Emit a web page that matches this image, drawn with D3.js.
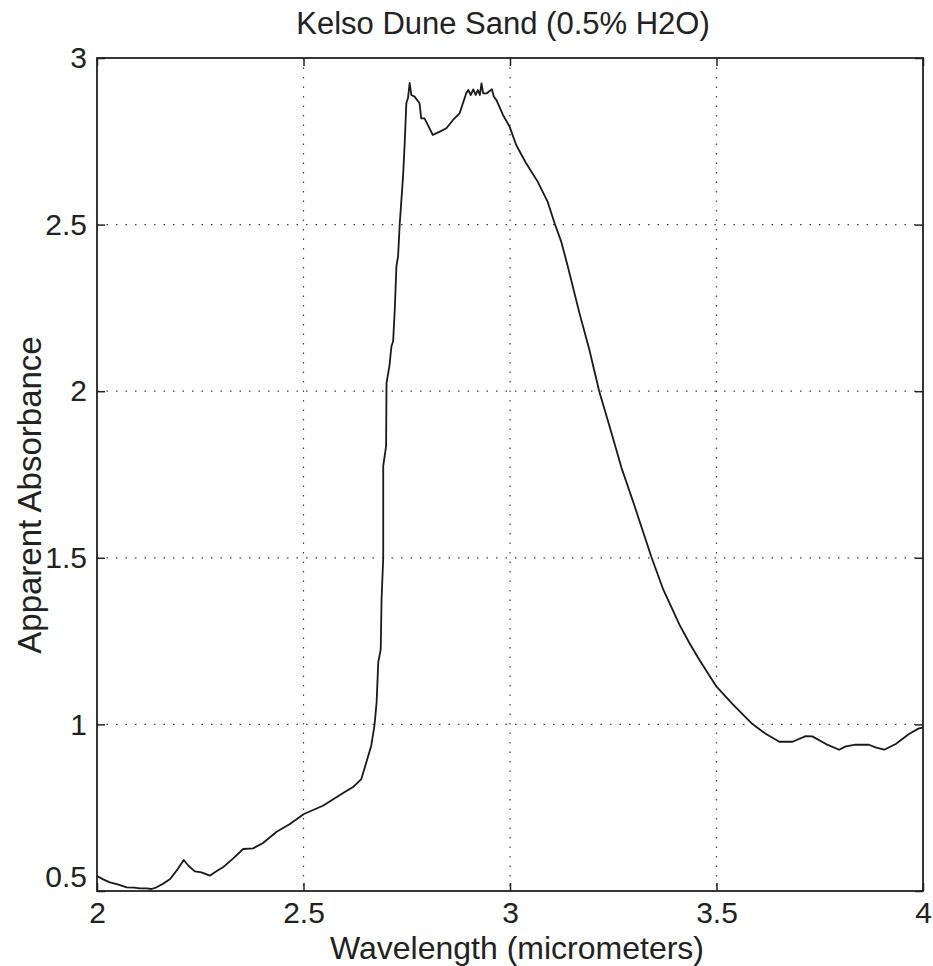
<!DOCTYPE html>
<html>
<head>
<meta charset="utf-8">
<script src="https://cdn.jsdelivr.net/npm/d3@7"></script>
<style>
  html, body { margin: 0; padding: 0; background: #fff; }
  svg text { font-family: "Liberation Sans", Arial, Helvetica, sans-serif; fill: #222; }
</style>
</head>
<body>
<svg id="chart" width="933" height="966"></svg>
<script>
// Spectrum: wavelength (micrometers) and apparent absorbance
const wavelength = [
  2.000, 2.015, 2.031, 2.050, 2.072, 2.090, 2.104, 2.120, 2.132, 2.144,
  2.160, 2.177, 2.195, 2.210, 2.222, 2.237, 2.253, 2.273, 2.290, 2.305,
  2.330, 2.354, 2.378, 2.402, 2.435, 2.467, 2.501, 2.547, 2.596, 2.620,
  2.640, 2.652, 2.664, 2.672, 2.677, 2.681, 2.687, 2.689, 2.693, 2.693,
  2.700, 2.701, 2.708, 2.713, 2.717, 2.721, 2.725, 2.729, 2.733, 2.741,
  2.745, 2.749, 2.753, 2.757, 2.761, 2.769, 2.781, 2.785, 2.793, 2.801,
  2.813, 2.830, 2.846, 2.862, 2.878, 2.894, 2.899, 2.905, 2.911, 2.917,
  2.922, 2.927, 2.931, 2.935, 2.944, 2.956, 2.961, 2.967, 2.983, 2.999,
  3.015, 3.039, 3.067, 3.091, 3.108, 3.124, 3.140, 3.168, 3.192, 3.216,
  3.241, 3.270, 3.299, 3.323, 3.343, 3.371, 3.410, 3.434, 3.458, 3.499,
  3.539, 3.587, 3.620, 3.652, 3.684, 3.716, 3.732, 3.765, 3.797, 3.813,
  3.837, 3.869, 3.885, 3.906, 3.934, 3.966, 3.990, 4.000
];
const absorbance = [
  0.545, 0.535, 0.526, 0.520, 0.511, 0.510, 0.508, 0.508, 0.506, 0.511,
  0.522, 0.536, 0.565, 0.593, 0.575, 0.559, 0.556, 0.546, 0.560, 0.571,
  0.598, 0.626, 0.628, 0.644, 0.678, 0.701, 0.731, 0.756, 0.794, 0.812,
  0.836, 0.886, 0.936, 0.998, 1.066, 1.186, 1.225, 1.375, 1.498, 1.775,
  1.835, 2.025, 2.075, 2.135, 2.150, 2.245, 2.375, 2.405, 2.502, 2.644,
  2.744, 2.864, 2.880, 2.925, 2.889, 2.884, 2.864, 2.819, 2.819, 2.799,
  2.769, 2.779, 2.789, 2.814, 2.834, 2.894, 2.904, 2.889, 2.906, 2.889,
  2.904, 2.889, 2.924, 2.894, 2.894, 2.906, 2.884, 2.874, 2.829, 2.794,
  2.739, 2.684, 2.629, 2.569, 2.504, 2.449, 2.374, 2.235, 2.125, 2.000,
  1.895, 1.770, 1.665, 1.575, 1.500, 1.405, 1.300, 1.245, 1.195, 1.115,
  1.061, 1.001, 0.971, 0.948, 0.948, 0.965, 0.964, 0.941, 0.924, 0.934,
  0.939, 0.939, 0.931, 0.924, 0.941, 0.971, 0.988, 0.990
];
const xTicks = [2, 2.5, 3, 3.5, 4];
const yTicks = [0.5, 1, 1.5, 2, 2.5, 3];
const titleText = "Kelso Dune Sand (0.5% H2O)";
const xLabel = "Wavelength (micrometers)";
const yLabel = "Apparent Absorbance";

const svg = d3.select("#chart");
const m = { left: 97, right: 923, top: 58, bottom: 891 };

const x = d3.scaleLinear().domain([2, 4]).range([m.left, m.right]);
const y = d3.scaleLinear().domain([0.5, 3]).range([m.bottom, m.top]);

const ink = "#222";
const tickLen = 8;
const tickFont = 30;

// dotted grid
const grid = svg.append("g").attr("stroke", "#444").attr("stroke-width", 1.2)
  .attr("stroke-dasharray", "1.5,8");
grid.selectAll("line.gx").data(xTicks.slice(1, -1)).join("line")
  .attr("x1", d => x(d)).attr("x2", d => x(d))
  .attr("y1", m.top).attr("y2", m.bottom);
grid.selectAll("line.gy").data(yTicks.slice(1, -1)).join("line")
  .attr("y1", d => y(d)).attr("y2", d => y(d))
  .attr("x1", m.left).attr("x2", m.right);

// axes with inward ticks on all sides
const fmt = d => d3.format("")(d);
const bottomAxis = d3.axisBottom(x).tickValues(xTicks).tickSize(-tickLen).tickPadding(11).tickFormat(fmt);
const topAxis = d3.axisTop(x).tickValues(xTicks).tickSize(-tickLen).tickFormat("");
const leftAxis = d3.axisLeft(y).tickValues(yTicks).tickSize(-tickLen).tickPadding(10).tickFormat(fmt);
const rightAxis = d3.axisRight(y).tickValues(yTicks).tickSize(-tickLen).tickFormat("");

function styleAxis(g) {
  g.attr("font-size", tickFont).attr("font-family", "'Liberation Sans', Arial, sans-serif");
  g.select(".domain").remove();
  g.selectAll(".tick line").attr("stroke", ink).attr("stroke-width", 1.5);
  g.selectAll(".tick text").attr("fill", ink);
}
svg.append("g").attr("transform", `translate(0,${m.bottom})`).call(bottomAxis).call(styleAxis);
svg.append("g").attr("transform", `translate(0,${m.top})`).call(topAxis).call(styleAxis);
const gLeft = svg.append("g").attr("transform", `translate(${m.left},0)`).call(leftAxis).call(styleAxis);
svg.append("g").attr("transform", `translate(${m.right},0)`).call(rightAxis).call(styleAxis);

// the lowest y label sits a little above its tick, clear of the "2" below
gLeft.selectAll(".tick").filter(d => d === yTicks[0]).select("text").attr("dy", "-0.15em");

// frame
svg.append("rect")
  .attr("x", m.left).attr("y", m.top)
  .attr("width", m.right - m.left).attr("height", m.bottom - m.top)
  .attr("fill", "none").attr("stroke", ink).attr("stroke-width", 1.8);

// spectrum line
const pts = wavelength.map((w, i) => [w, absorbance[i]]);
svg.append("path")
  .datum(pts)
  .attr("fill", "none")
  .attr("stroke", "#1a1a1a")
  .attr("stroke-width", 1.8)
  .attr("stroke-linejoin", "round")
  .attr("d", d3.line().x(d => x(d[0])).y(d => y(d[1])));

// title and axis labels
svg.append("text")
  .attr("x", 503).attr("y", 34)
  .attr("text-anchor", "middle").attr("font-size", 31)
  .text(titleText);
svg.append("text")
  .attr("x", 517).attr("y", 959)
  .attr("text-anchor", "middle").attr("font-size", 32)
  .text(xLabel);
svg.append("text")
  .attr("transform", "translate(41,495) rotate(-90)")
  .attr("text-anchor", "middle").attr("font-size", 33)
  .text(yLabel);
</script>
</body>
</html>
